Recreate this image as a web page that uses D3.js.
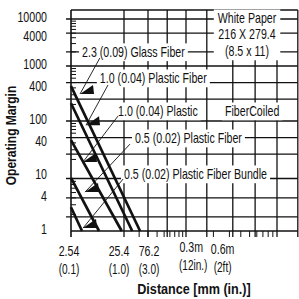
<!DOCTYPE html>
<html>
<head>
<meta charset="utf-8">
<script src="https://cdn.jsdelivr.net/npm/d3@7"></script>
<style>
  body { margin: 0; background: #fff; }
  svg { display: block; font-family: "Liberation Sans", Arial, sans-serif; }
</style>
</head>
<body>
<div class="chart"></div>
<script>
// axis ticks
const yTickValues = [10000, 4000, 1000, 400, 100, 40, 10, 4, 1];
const xTickValues = [2.54, 25.4, 76.2, 304.8, 609.6];
const xTickMm = ["2.54", "25.4", "76.2", "0.3m", "0.6m"];
const xTickIn = ["(0.1)", "(1.0)", "(3.0)", "(12in.)", "(2ft)"];

// grid lines (the printed grid is not even)
const gridX = [25.4, 76.2, 140, 254, 430, 830, 1460, 2540, 4300];
const gridY = [10000, 5000, 2000, 1000, 500, 250, 100, 50, 25, 9, 4, 1.8];

// one straight (log-log) line per fiber: margin at 2.54 mm, distance where margin = 1
const fiberNames = ["2.3 (0.09) Glass Fiber", "1.0 (0.04) Plastic Fiber", "1.0 (0.04) Plastic",
                    "0.5 (0.02) Plastic Fiber", "0.5 (0.02) Plastic Fiber Bundle"];
const marginNear = [430, 210, 45, 9.2, 2.7];
const distanceAtOne = [53, 37, 23, 8.6, 4.1];

const xMin = 2.54, xMax = 4300, yMin = 1, yMax = 15500;

function init(){
    const w = 299, h = 299;
    const fs = 14;

    // piecewise log scales, the scanned axes are stretched unevenly
    const x = d3.scaleLog()
        .domain([2.54, 25.4, 76.2, 254, 2540])
        .range([71, 124, 148, 186, 277]);
    const y = d3.scaleLog()
        .domain([1, 10, 100, 1000, 10000])
        .range([231, 176, 121, 66, 19]);

    const svg = d3.select(".chart").append("svg").attr("width", w).attr("height", h);

    // squeeze text sideways round its x to look like a condensed face
    function narrow(sel, k = 0.76){
        sel.each(function(){
            const t = d3.select(this), px = +t.attr("x");
            t.attr("transform", `translate(${px},0) scale(${k},1) translate(${-px},0)`);
        });
        return sel;
    }

    const x0 = x(xMin), x1 = x(xMax), y0 = y(yMin), y1 = y(yMax);

    // grid
    svg.append("g").selectAll("line").data(gridY).join("line")
        .attr("x1", x0 - 5).attr("x2", x1)
        .attr("y1", d => y(d)).attr("y2", d => y(d))
        .attr("stroke", "#111").attr("stroke-width", 1.3);
    svg.append("g").selectAll("line").data(gridX).join("line")
        .attr("x1", d => x(d)).attr("x2", d => x(d))
        .attr("y1", y1).attr("y2", y0 + 6)
        .attr("stroke", "#111").attr("stroke-width", 1.3);

    // minor ticks
    const mult = [2, 3, 4, 5, 6, 7, 8, 9];
    const xMinor = [25.4, 254, 2540].flatMap(d => mult.map(m => d * m)).filter(d => d < xMax);
    svg.append("g").selectAll("line").data(xMinor).join("line")
        .attr("x1", d => x(d)).attr("x2", d => x(d))
        .attr("y1", y0).attr("y2", y0 + 6)
        .attr("stroke", "#111").attr("stroke-width", 1);
    const yMinor = [1, 10, 100, 1000].flatMap(d => mult.map(m => d * m));
    svg.append("g").selectAll("line").data(yMinor).join("line")
        .attr("x1", x0).attr("x2", x0 + 5)
        .attr("y1", d => y(d)).attr("y2", d => y(d))
        .attr("stroke", "#111").attr("stroke-width", 1);

    // frame: top, bottom, left
    svg.append("line").attr("x1", x0).attr("x2", x1).attr("y1", y1).attr("y2", y1)
        .attr("stroke", "#111").attr("stroke-width", 1.4);
    svg.append("line").attr("x1", x0).attr("x2", x1).attr("y1", y0).attr("y2", y0)
        .attr("stroke", "#111").attr("stroke-width", 1.6);
    svg.append("line").attr("x1", x0).attr("x2", x0).attr("y1", y1).attr("y2", y0 + 6)
        .attr("stroke", "#111").attr("stroke-width", 1.6);

    // tick labels
    svg.append("g").selectAll("text").data(yTickValues).join("text")
        .attr("x", x0 - 24).attr("y", d => y(d) - 2)
        .attr("dy", "0.35em").attr("text-anchor", "end")
        .attr("font-size", fs).attr("fill", "#111")
        .text(d => d)
        .call(narrow);

    // the printed labels sit a little off their ticks
    const nudge = [[-2, 0], [-5, 0], [1, 0], [-2, -4], [2, -2]];
    svg.append("g").selectAll("text").data(xTickValues).join("text")
        .attr("x", (d, i) => x(d) + nudge[i][0]).attr("y", (d, i) => 251 + nudge[i][1])
        .attr("dy", "0.35em").attr("text-anchor", "middle")
        .attr("font-size", fs).attr("fill", "#111")
        .text((d, i) => xTickMm[i])
        .call(narrow);
    svg.append("g").selectAll("text").data(xTickValues).join("text")
        .attr("x", (d, i) => x(d) + nudge[i][0] + (i === 3 ? 2 : 0)).attr("y", (d, i) => 269 + nudge[i][1])
        .attr("dy", "0.35em").attr("text-anchor", "middle")
        .attr("font-size", fs).attr("fill", "#111")
        .text((d, i) => xTickIn[i])
        .call(narrow, 0.72);

    // axis titles
    svg.append("text")
        .attr("transform", `translate(11, ${(y1 + y0) / 2 + 15}) rotate(-90) scale(0.83,1)`)
        .attr("dy", "0.35em").attr("text-anchor", "middle")
        .attr("font-size", 14.5).attr("font-weight", "bold").attr("fill", "#111")
        .text("Operating Margin");
    svg.append("text")
        .attr("x", 194).attr("y", 289).attr("dy", "0.35em")
        .attr("text-anchor", "middle")
        .attr("font-size", 14.5).attr("font-weight", "bold").attr("fill", "#111")
        .text("Distance [mm (in.)]")
        .call(narrow, 0.87);

    // callouts: label anchor, arrow start and arrow tip, in data units
    const callouts = [
        { text: fiberNames[0], at: [4.1, 2000], from: [8.9, 1480], to: [3.76, 310] },
        { text: fiberNames[1], at: [8.9, 605], from: [12.7, 452], to: [4.88, 84] },
        { text: fiberNames[2], at: [19.6, 152], from: [19.6, 123], to: [4.28, 18] },
        { text: fiberNames[3], at: [42, 49], from: [33.4, 38], to: [4.67, 5.1] },
        { text: fiberNames[4], at: [25.4, 10.9], from: [24.4, 8.8], to: [4.28, 1.13] },
        { text: "FiberCoiled", at: [681, 152] }
    ];

    function boxed(g, pad){
        const b = g.node().getBoundingClientRect();
        g.insert("rect", ":first-child")
            .attr("x", b.left - pad).attr("y", b.top - 1)
            .attr("width", b.width + pad * 2).attr("height", b.height + 2)
            .attr("fill", "#fff");
    }

    callouts.forEach(c => {
        const g = svg.append("g");
        g.append("text")
            .attr("x", x(c.at[0])).attr("y", y(c.at[1]))
            .attr("dy", "0.35em").attr("font-size", fs).attr("fill", "#111")
            .text(c.text)
            .call(narrow);
        boxed(g, 3);
    });

    // white paper note
    const note = svg.append("g");
    note.selectAll("text").data(["White Paper", "216 X 279.4", "(8.5 x 11)"]).join("text")
        .attr("x", x(1190)).attr("y", (d, i) => y(10500) + i * 16.5)
        .attr("dy", "0.35em").attr("text-anchor", "middle")
        .attr("font-size", fs).attr("fill", "#111")
        .text(d => d)
        .call(narrow);
    boxed(note, 4);

    // fiber curves
    const line = d3.line().x(d => x(d[0])).y(d => y(d[1]));
    svg.append("g").selectAll("path")
        .data(fiberNames.map((n, i) => [[xMin, marginNear[i]], [distanceAtOne[i], yMin]]))
        .join("path")
        .attr("d", line)
        .attr("fill", "none").attr("stroke", "#111").attr("stroke-width", 2.7);

    // arrows
    const arrows = callouts.filter(c => c.to);
    svg.append("g").selectAll("line").data(arrows).join("line")
        .attr("x1", d => x(d.from[0])).attr("y1", d => y(d.from[1]))
        .attr("x2", d => x(d.to[0])).attr("y2", d => y(d.to[1]))
        .attr("stroke", "#111").attr("stroke-width", 0.9);
    svg.append("g").selectAll("path").data(arrows).join("path")
        .attr("d", d => {
            const tx = x(d.to[0]), ty = y(d.to[1]);
            return `M${tx},${ty}L${tx + 13},${ty - 9}L${tx + 14},${ty}Z`;
        })
        .attr("fill", "#111");
}
window.onload = init;
</script>
</body>
</html>
